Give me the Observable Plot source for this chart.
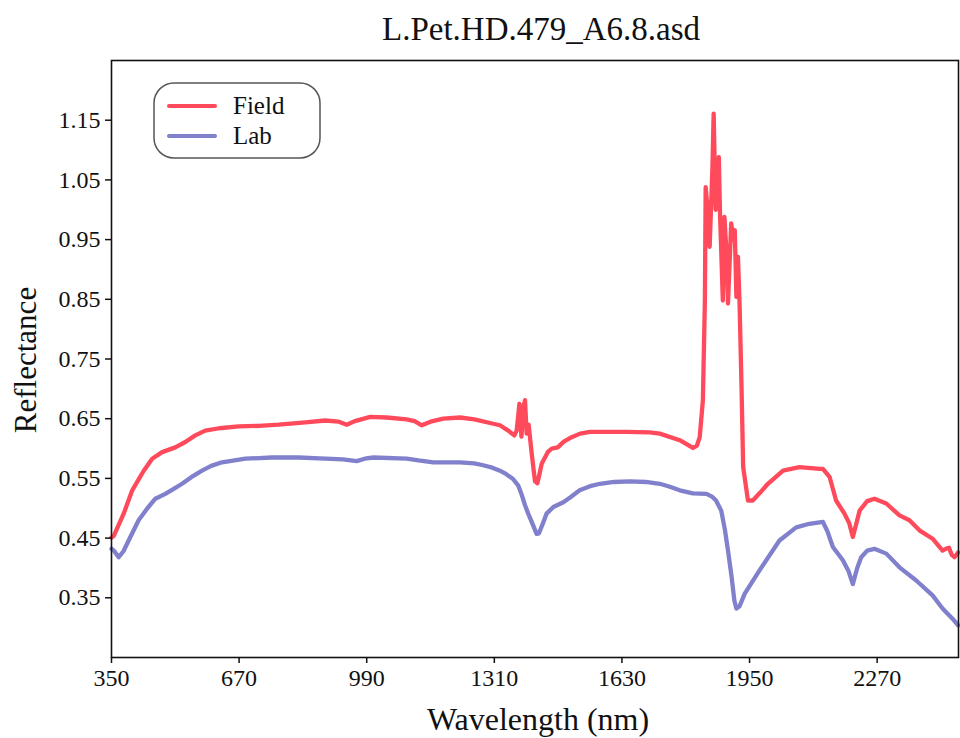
<!DOCTYPE html>
<html><head><meta charset="utf-8">
<script src="https://cdn.jsdelivr.net/npm/d3@7"></script>
<script src="https://cdn.jsdelivr.net/npm/@observablehq/plot@0.6"></script>
<style>
body{margin:0;background:#fff;}
#wrap{position:relative;width:960px;height:738px;font-family:"Liberation Serif",serif;color:#111;overflow:hidden;}
.lab{position:absolute;white-space:nowrap;line-height:1;}
#title{left:541px;top:13px;transform:translateX(-50%);font-size:33px;}
#xlab{left:538px;top:703px;transform:translateX(-50%);font-size:32px;}
#ylab{left:25px;top:360px;transform:translate(-50%,-50%) rotate(-90deg);font-size:31px;}
#legend{position:absolute;left:153px;top:82px;}
</style>
</head><body>
<div id="wrap">
<div id="chart"></div>
<div class="lab" id="title"></div>
<div class="lab" id="xlab"></div>
<div class="lab" id="ylab"></div>
<svg id="legend" width="170" height="80"></svg>
</div>
<script>
const titleText = "L.Pet.HD.479_A6.8.asd";
const xLabel = "Wavelength (nm)";
const yLabel = "Reflectance";
const seriesNames = ["Field", "Lab"];
const colors = ["#ff4a5c", "#8080cc"];
const xTicks = [350, 670, 990, 1310, 1630, 1950, 2270];
const yTicks = [0.35, 0.45, 0.55, 0.65, 0.75, 0.85, 0.95, 1.05, 1.15];

const fieldWl = [350,356,380,402,430,452,477,510,535,560,585,620,669,720,769,836,886,920,940,960,999,1040,1090,1110,1128,1150,1182,1224,1260,1291,1324,1345,1360,1366,1373,1378,1383,1387,1391,1396,1404,1412,1418,1429,1445,1454,1469,1485,1504,1525,1550,1575,1641,1700,1725,1775,1808,1818,1825,1833,1838,1840,1845,1850,1857,1860,1865,1870,1873,1876,1883,1887,1892,1896,1904,1910,1913,1917,1921,1925,1930,1934,1946,1958,1975,1996,2034,2075,2126,2134,2151,2167,2188,2200,2209,2218,2226,2245,2263,2293,2326,2351,2376,2409,2434,2442,2450,2457,2464,2473];
const fieldR = [0.451,0.454,0.490,0.530,0.562,0.583,0.594,0.602,0.611,0.622,0.630,0.634,0.637,0.638,0.640,0.644,0.647,0.645,0.640,0.646,0.653,0.652,0.649,0.646,0.639,0.645,0.650,0.652,0.649,0.644,0.639,0.630,0.622,0.630,0.675,0.620,0.670,0.681,0.625,0.640,0.590,0.545,0.542,0.575,0.595,0.600,0.602,0.612,0.619,0.625,0.628,0.628,0.628,0.627,0.625,0.614,0.601,0.605,0.619,0.681,0.848,1.038,1.000,0.938,1.072,1.161,1.000,1.050,1.088,0.993,0.848,0.988,0.930,0.843,0.977,0.950,0.966,0.854,0.921,0.843,0.700,0.569,0.513,0.513,0.525,0.541,0.563,0.569,0.566,0.566,0.552,0.513,0.491,0.475,0.452,0.475,0.496,0.512,0.516,0.508,0.488,0.480,0.463,0.449,0.429,0.432,0.434,0.422,0.418,0.426];

const labWl = [350,356,368,380,393,418,440,460,485,505,527,550,577,600,627,686,752,819,886,930,965,985,1007,1090,1120,1157,1224,1260,1282,1305,1324,1340,1357,1370,1378,1387,1395,1405,1416,1422,1432,1441,1458,1483,1500,1524,1550,1575,1610,1650,1690,1725,1750,1775,1808,1842,1857,1866,1879,1888,1896,1905,1912,1917,1925,1938,1975,2025,2067,2100,2134,2145,2159,2184,2198,2209,2220,2230,2245,2263,2293,2326,2368,2409,2434,2459,2473];
const labR = [0.432,0.429,0.418,0.428,0.446,0.480,0.500,0.516,0.524,0.532,0.541,0.552,0.563,0.571,0.577,0.583,0.585,0.585,0.583,0.582,0.579,0.583,0.585,0.583,0.580,0.577,0.577,0.575,0.572,0.568,0.563,0.557,0.549,0.538,0.524,0.505,0.491,0.475,0.457,0.458,0.475,0.491,0.502,0.510,0.518,0.530,0.537,0.541,0.544,0.545,0.544,0.541,0.536,0.530,0.525,0.524,0.519,0.513,0.496,0.465,0.429,0.385,0.345,0.332,0.336,0.357,0.396,0.446,0.468,0.474,0.477,0.462,0.435,0.413,0.395,0.373,0.400,0.418,0.429,0.432,0.424,0.401,0.379,0.354,0.332,0.315,0.304];

const data = [
  ...fieldWl.map((w, i) => ({wl: w, r: fieldR[i], s: seriesNames[0]})),
  ...labWl.map((w, i) => ({wl: w, r: labR[i], s: seriesNames[1]}))
];

const chart = Plot.plot({
  width: 960, height: 738,
  marginTop: 60, marginLeft: 111, marginRight: 2, marginBottom: 81,
  style: {fontFamily: "Liberation Serif, serif", fontSize: "24px", color: "#111", background: "transparent"},
  x: {domain: [350, 2474]},
  y: {domain: [0.25, 1.25]},
  color: {domain: seriesNames, range: colors},
  marks: [
    Plot.line(data, {x: "wl", y: "r", z: "s", stroke: "s", strokeWidth: 4.3, strokeLinejoin: "round", strokeLinecap: "round"}),
    Plot.frame({stroke: "#111", strokeWidth: 1.6}),
    Plot.axisX({ticks: xTicks, tickSize: 6, tickPadding: 5, label: null, fontSize: 24, tickFormat: d => String(d), strokeWidth: 1.5}),
    Plot.axisY({ticks: yTicks, tickSize: 6, tickPadding: 5, label: null, fontSize: 24, tickFormat: d => d.toFixed(2), strokeWidth: 1.5})
  ]
});
document.getElementById("chart").appendChild(chart);
document.getElementById("title").textContent = titleText;
document.getElementById("xlab").textContent = xLabel;
document.getElementById("ylab").textContent = yLabel;

const lg = d3.select("#legend");
lg.append("rect").attr("x", 1).attr("y", 1).attr("width", 166).attr("height", 75)
  .attr("rx", 20).attr("fill", "#fff").attr("stroke", "#555").attr("stroke-width", 1.5);
seriesNames.forEach((n, i) => {
  const y = 24 + i * 30;
  lg.append("line").attr("x1", 16).attr("x2", 62).attr("y1", y).attr("y2", y)
    .attr("stroke", colors[i]).attr("stroke-width", 4).attr("stroke-linecap", "round");
  lg.append("text").attr("x", 80).attr("y", y + 8).text(n)
    .attr("font-family", "Liberation Serif, serif").attr("font-size", 25).attr("fill", "#111");
});
</script>
</body></html>
